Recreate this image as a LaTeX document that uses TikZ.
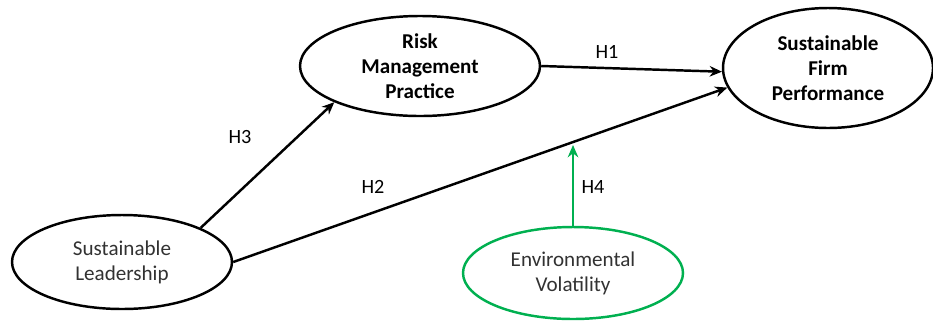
\documentclass[tikz,border=0pt]{standalone}
\usepackage{fontspec}
\setmainfont{Carlito}
\usetikzlibrary{shapes.geometric,arrows.meta}
\definecolor{modgreen}{RGB}{0,176,80}
\definecolor{lighttext}{RGB}{50,50,50}

\begin{document}
\begin{tikzpicture}[
	construct/.style={ellipse, draw, line width=1.4pt, inner sep=0pt, align=center,
		font=\fontsize{12}{14.2}\selectfont},
	path/.style={line width=1.4pt, -{Stealth[length=7pt,width=6pt]}},
	hlabel/.style={font=\fontsize{11.5}{14}\selectfont}
]
	\useasboundingbox (0,0) rectangle (18.66,-6.4);
	% latent constructs
	\node[construct, minimum width=4.8cm, minimum height=2.0cm, font=\fontsize{12}{14.2}\selectfont\bfseries]
		(rmp) at (8.4,-1.32) {Risk\\Management\\Practice};
	\node[construct, minimum width=4.2cm, minimum height=2.4cm, font=\fontsize{12}{14.2}\selectfont\bfseries]
		(sfp) at (16.56,-1.36) {Sustainable\\Firm\\Performance};
	\node[construct, minimum width=4.4cm, minimum height=1.88cm, text=lighttext]
		(sl) at (2.44,-5.24) {Sustainable\\Leadership};
	% moderator
	\node[construct, draw=modgreen, minimum width=4.4cm, minimum height=1.84cm, text=lighttext]
		(ev) at (11.46,-5.46) {Environmental\\Volatility};
	\coordinate (mod) at (11.46,-2.9);
	% hypothesised paths
	\draw[path] (rmp.east) -- (sfp.182);
	\draw[path] (sl.east) -- (sfp.191);
	\draw[path] (sl.north east) -- (rmp.south west);
	\draw[path, modgreen] (ev.north) -- (mod);
	% path labels
	\node[hlabel] (h1) at (12.14,-1.04) {H1};
	\node[hlabel] (h2) at (7.46,-3.74) {H2};
	\node[hlabel] (h3) at (4.8,-2.74) {H3};
	\node[hlabel] (h4) at (11.86,-3.74) {H4};
\end{tikzpicture}
\end{document}
